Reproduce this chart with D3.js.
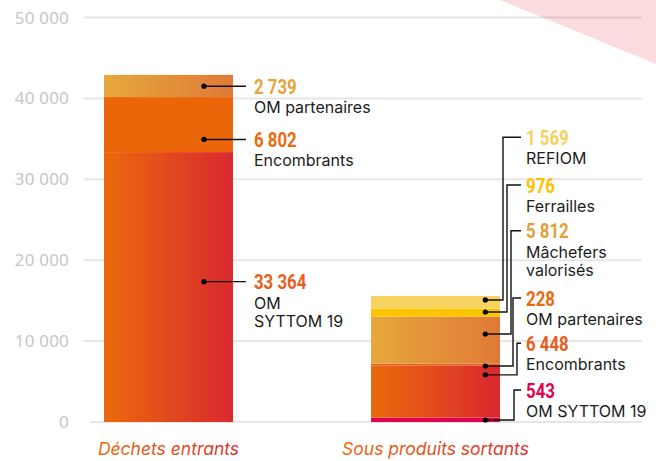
<!DOCTYPE html>
<html>
<head>
<meta charset="utf-8">
<script src="https://cdn.jsdelivr.net/npm/d3@7"></script>
<style>
  html, body { margin: 0; padding: 0; background: #fff; }
  svg { display: block; }
</style>
</head>
<body>
<svg id="chart" width="656" height="461"></svg>
<script>
// données
const categories = ['Déchets entrants', 'Sous produits sortants']

// empilement de bas en haut
const entrantsNames = [['OM', 'SYTTOM 19'], ['Encombrants'], ['OM partenaires']]
const entrantsValues = [33364, 6802, 2739]

const sortantsNames = [['OM SYTTOM 19'], ['Encombrants'], ['OM partenaires'], ['Mâchefers', 'valorisés'], ['Ferrailles'], ['REFIOM']]
const sortantsValues = [543, 6448, 228, 5812, 976, 1569]

const yTicks = [0, 10000, 20000, 30000, 40000, 50000]

// styles
const entrantsFill = ['grad-red', '#eb6608', 'grad-gold']
const entrantsText = ['#e85d22', '#ec6a0e', '#e8a33d']
const sortantsFill = ['#e3004f', 'grad-red', '#e95e1a', 'grad-gold', '#fdc400', '#f7d35e']
const sortantsText = ['#e3004f', '#e95d1f', '#ec6a0e', '#e59d3b', '#fcc200', '#f6d05e']

// position des points (fraction du segment depuis le bas) et des étiquettes
const entrantsDotAt = [0.52, 0.23, 0.49]
const sortantsDotAt = [0.45, 0.82, -0.3, 0.63, 0.58, 0.69]
const sortantsLabelY = [390, 343.3, 298, 230.7, 185, 137.3]
const sortantsElbowX = [514, 517, 513, 511, 507, 503]

const svg = d3.select('#chart')
const fr = d3.formatLocale({ decimal: ',', thousands: '\u00a0', grouping: [3], currency: ['', ' €'] })
const fmt = fr.format(',d')

const y = d3.scaleLinear().domain([0, 50000]).range([422, 17.5])
const x = d3.scaleBand().domain(categories).range([104, 500]).paddingInner(0.517).paddingOuter(0)

// dégradés
const defs = svg.append('defs')
let addGrad = function (id, c0, c1) {
  let g = defs.append('linearGradient').attr('id', id).attr('x1', 0).attr('x2', 1).attr('y1', 0).attr('y2', 0)
  g.append('stop').attr('offset', 0).attr('stop-color', c0)
  g.append('stop').attr('offset', 1).attr('stop-color', c1)
}
addGrad('grad-red', '#eb6a0c', '#d9282f')
addGrad('grad-gold', '#e6a83c', '#e07a37')
addGrad('grad-label', '#eb6a10', '#dc3030')
const fillOf = f => f.startsWith('grad') ? `url(#${f})` : f

// grille
svg.append('g').selectAll('line')
  .data(yTicks)
  .join('line')
  .attr('x1', d => d === 0 ? 90 : 84)
  .attr('x2', 642)
  .attr('y1', d => y(d))
  .attr('y2', d => y(d))
  .attr('stroke', '#e6e6e6')
  .attr('stroke-width', 2)

svg.append('g').selectAll('text')
  .data(yTicks)
  .join('text')
  .attr('x', 69)
  .attr('y', d => y(d) + 6)
  .attr('text-anchor', 'end')
  .style('font-family', '"Noto Sans", sans-serif')
  .style('font-size', '17px')
  .style('letter-spacing', '0.2px')
  .attr('fill', '#c6c6c6')
  .text(d => fmt(d))

// piles
let stackOf = function (values) {
  let acc = 0
  return values.map(v => { let s = { y0: acc, y1: acc + v, v: v }; acc += v; return s })
}

let drawBar = function (cat, names, values, fills, texts, dotAt, dotFrac, labelY, elbowX) {
  let stack = stackOf(values)
  let bx = x(cat)
  let bw = x.bandwidth()
  let g = svg.append('g')

  g.selectAll('rect')
    .data(stack)
    .join('rect')
    .attr('x', bx)
    .attr('width', bw)
    .attr('y', d => y(d.y1))
    .attr('height', d => y(d.y0) - y(d.y1))
    .attr('fill', (d, i) => fillOf(fills[i]))

  let dotX = bx + bw * dotFrac
  stack.forEach((d, i) => {
    let dy = y(d.y0 + (d.y1 - d.y0) * dotAt[i])
    let ly = labelY ? labelY[i] : dy
    let tx = labelY ? 521 : bx + bw + 13
    let path = labelY
      ? `M${dotX},${dy}H${elbowX[i]}V${ly}H${tx}`
      : `M${dotX},${dy}H${tx}`
    g.append('path').attr('d', path).attr('fill', 'none').attr('stroke', '#111').attr('stroke-width', 1.4)
    g.append('circle').attr('cx', dotX).attr('cy', dy).attr('r', 2.6).attr('fill', '#000')

    let lx = tx + (labelY ? 5 : 8)
    g.append('text')
      .attr('transform', `translate(${lx},${ly + 7.5}) scale(0.8,1)`)
      .style('font-family', 'Roboto, sans-serif')
      .style('font-weight', 'bold')
      .style('font-size', '21px')
      .attr('fill', texts[i])
      .text(fmt(d.v))
    names[i].forEach((n, k) => {
      g.append('text')
        .attr('x', lx)
        .attr('y', ly + 27 + k * 18.5)
        .style('font-family', 'Inter, "Noto Sans", sans-serif')
        .style('font-size', '16px')
        .attr('fill', '#1d1d1b')
        .text(n)
    })
  })
}

drawBar(categories[0], entrantsNames, entrantsValues, entrantsFill, entrantsText, entrantsDotAt, 0.775, null, null)
drawBar(categories[1], sortantsNames, sortantsValues, sortantsFill, sortantsText, sortantsDotAt, 0.886, sortantsLabelY, sortantsElbowX)

// libellés des catégories
svg.append('g').selectAll('text')
  .data(categories)
  .join('text')
  .attr('x', d => x(d) + x.bandwidth() / 2)
  .attr('y', 455)
  .attr('text-anchor', 'middle')
  .style('font-family', 'Inter, "Noto Sans", sans-serif')
  .style('font-size', '17.5px')
  .style('font-style', 'italic')
  .attr('fill', 'url(#grad-label)')
  .text(d => d)

// triangle décoratif
svg.append('path')
  .attr('d', 'M500,0L656,0L656,64Z')
  .attr('fill', '#e2303f')
  .attr('fill-opacity', 0.17)
</script>
</body>
</html>
